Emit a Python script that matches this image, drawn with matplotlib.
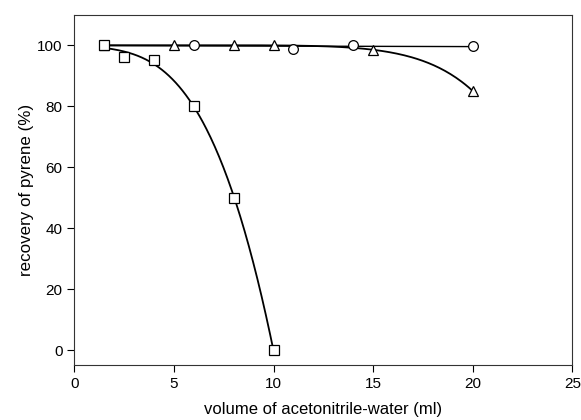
import matplotlib.pyplot as plt
import numpy as np

plt.rcParams['font.family'] = ['Liberation Sans', 'DejaVu Sans']

# data
sq_x = [1.5, 2.5, 4, 6, 8, 10]
sq_y = [100, 96, 95, 80, 50, 0]
tri_x = [1.5, 5, 8, 10, 15, 20]
tri_y = [100, 100, 100, 100, 98.5, 85]
circ_x = [1.5, 6, 11, 14, 20]
circ_y = [100, 100, 98.8, 100, 99.7]

fig, ax = plt.subplots(figsize=(5.81, 4.2), dpi=100)
fig.subplots_adjust(left=0.128, right=0.985, top=0.965, bottom=0.13)

# smooth fitted curves
def fit_curve(x, y, deg):
    c = np.polyfit(x, y, deg)
    xs = np.linspace(min(x), max(x), 200)
    return xs, np.polyval(c, xs)

xs, ys = fit_curve(sq_x, sq_y, 3)
ax.plot(xs, ys, color='black', lw=1.3)

# triangles: 100 - a*x^n, fitted in log space on the points that drop
tx = np.array(tri_x)
drop = 100.0 - np.array(tri_y)
m = drop > 1
n, loga = np.polyfit(np.log(tx[m]), np.log(drop[m]), 1)
xs = np.linspace(tx.min(), tx.max(), 200)
ax.plot(xs, 100.0 - np.exp(loga) * xs ** n, color='black', lw=1.3)

xs, ys = fit_curve(circ_x, circ_y, 1)
ax.plot(xs, ys, color='black', lw=1.0)

mk = dict(mfc='white', mec='black', mew=0.9, ls='none', ms=7, zorder=3)
ax.plot(tri_x, tri_y, marker='^', **mk)
ax.plot(circ_x, circ_y, marker='o', **mk)
ax.plot(sq_x, sq_y, marker='s', **mk)

ax.set_xlim(0, 25)
ax.set_ylim(-5, 110)
ax.set_xticks([0, 5, 10, 15, 20, 25])
ax.set_yticks([0, 20, 40, 60, 80, 100])
ax.tick_params(direction='out', length=5, labelsize=11, top=False, right=False)
for s in ax.spines.values():
    s.set_color('#333333')
ax.set_xlabel('volume of acetonitrile-water (ml)', fontsize=12, labelpad=8)
ax.set_ylabel('recovery of pyrene (%)', fontsize=12.2, labelpad=2)

plt.savefig('out.png')
